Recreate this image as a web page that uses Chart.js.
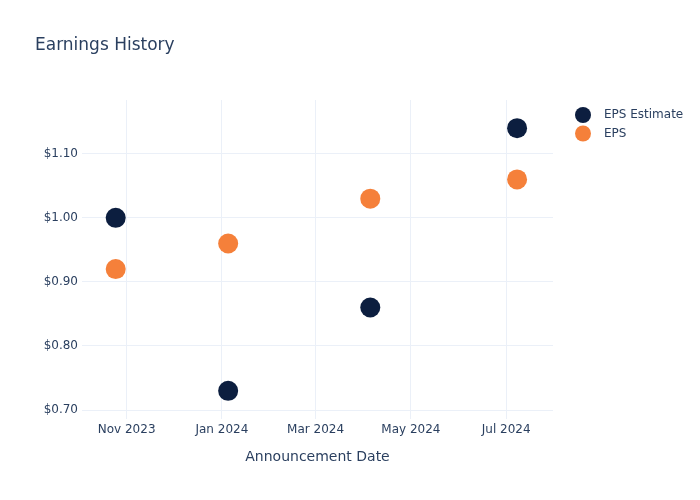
<!DOCTYPE html>
<html>
<head>
<meta charset="utf-8">
<script src="https://cdn.jsdelivr.net/npm/chart.js@4/dist/chart.umd.min.js"></script>
<style>
  html, body { margin: 0; padding: 0; background: #ffffff; }
  #wrap { width: 700px; height: 500px; position: relative; }
</style>
</head>
<body>
<div id="wrap"><canvas id="c" width="700" height="500"></canvas></div>
<script>
// ---- data ----
const chartTitle = 'Earnings History';
const xAxisTitle = 'Announcement Date';
const announcementDates = ['2023-10-25', '2024-01-05', '2024-04-05', '2024-07-08'];
const epsEstimate = [1.00, 0.73, 0.86, 1.14];
const epsActual = [0.92, 0.96, 1.03, 1.06];
const seriesNames = ['EPS Estimate', 'EPS'];
const seriesColors = ['#0c1e3f', '#f5803a'];
const xTickDates = ['2023-11-01', '2024-01-01', '2024-03-01', '2024-05-01', '2024-07-01'];
const xTickLabels = ['Nov 2023', 'Jan 2024', 'Mar 2024', 'May 2024', 'Jul 2024'];
const yTickValues = [0.70, 0.80, 0.90, 1.00, 1.10];
const xRange = ['2023-10-03T10:00:00Z', '2024-07-31T00:00:00Z'];
const yRange = [0.686, 1.184];

const toTs = s => new Date(s.length === 10 ? s + 'T00:00:00Z' : s).getTime();
const TEXT = '#2a3f5f';
const GRID = '#ebf0f8';
const FONT = "'DejaVu Sans', sans-serif";

const makePoints = vals => announcementDates.map((d, i) => ({ x: toTs(d), y: vals[i] }));

const overlay = {
  id: 'overlay',
  afterDraw(chart) {
    const ctx = chart.ctx;
    ctx.save();
    ctx.fillStyle = TEXT;
    ctx.font = "17px " + FONT;
    ctx.textAlign = 'left';
    ctx.textBaseline = 'alphabetic';
    ctx.fillText(chartTitle, 35, 50);
    // legend
    ctx.font = "12px " + FONT;
    ctx.textBaseline = 'middle';
    const lx = 583, ly0 = 115, dy = 18.5;
    seriesNames.forEach((n, i) => {
      const y = ly0 + i * dy;
      ctx.beginPath();
      ctx.fillStyle = seriesColors[i];
      ctx.arc(lx, y, 8, 0, Math.PI * 2);
      ctx.fill();
      ctx.fillStyle = TEXT;
      ctx.fillText(n, 604, y);
    });
    ctx.restore();
  }
};

new Chart(document.getElementById('c'), {
  type: 'scatter',
  data: {
    datasets: [
      { label: seriesNames[0], data: makePoints(epsEstimate), backgroundColor: seriesColors[0], borderColor: seriesColors[0], borderWidth: 0, pointRadius: 10, pointHoverRadius: 10 },
      { label: seriesNames[1], data: makePoints(epsActual), backgroundColor: seriesColors[1], borderColor: seriesColors[1], borderWidth: 0, pointRadius: 10, pointHoverRadius: 10 }
    ]
  },
  options: {
    responsive: false,
    animation: false,
    layout: { padding: { left: 0, right: 147, top: 100, bottom: 0 } },
    plugins: { legend: { display: false }, tooltip: { enabled: false }, title: { display: false } },
    scales: {
      x: {
        type: 'linear',
        min: toTs(xRange[0]),
        max: toTs(xRange[1]),
        afterBuildTicks: s => { s.ticks = xTickDates.map(d => ({ value: toTs(d) })); },
        afterFit: s => { s.height = 81; },
        grid: { color: GRID, lineWidth: 1, drawTicks: false },
        border: { display: false },
        ticks: {
          padding: 4,
          color: TEXT,
          font: { family: FONT, size: 12 },
          maxRotation: 0,
          autoSkip: false,
          callback: (v) => { const i = xTickDates.findIndex(d => toTs(d) === v); return i >= 0 ? xTickLabels[i] : ''; }
        },
        title: { display: true, text: xAxisTitle, color: TEXT, font: { family: FONT, size: 14 }, padding: { top: 0, bottom: 34 } }
      },
      y: {
        type: 'linear',
        min: yRange[0],
        max: yRange[1],
        afterBuildTicks: s => { s.ticks = yTickValues.map(v => ({ value: v })); },
        afterFit: s => { s.width = 82; },
        grid: { color: GRID, lineWidth: 1, drawTicks: false },
        border: { display: false },
        ticks: {
          padding: 4,
          color: TEXT,
          font: { family: FONT, size: 12 },
          callback: v => '$' + Number(v).toFixed(2)
        }
      }
    }
  },
  plugins: [overlay]
});
</script>
</body>
</html>
